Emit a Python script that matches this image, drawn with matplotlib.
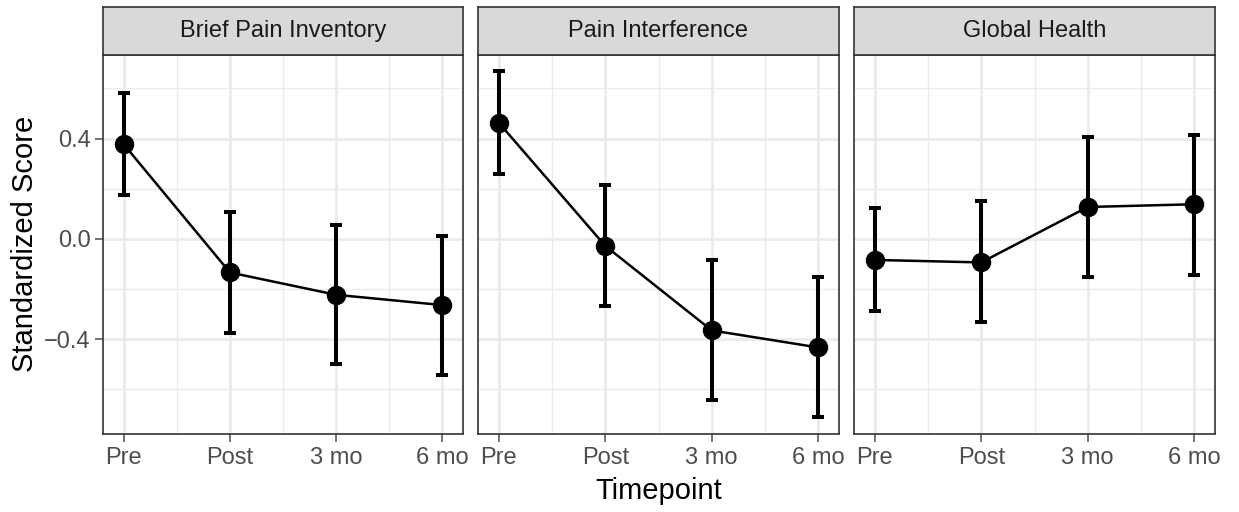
import matplotlib
matplotlib.use("Agg")
import matplotlib.pyplot as plt
import numpy as np

plt.rcParams['font.family'] = ['Liberation Sans', 'DejaVu Sans']

timepoints = ["Pre", "Post", "3 mo", "6 mo"]
panels = ["Brief Pain Inventory", "Pain Interference", "Global Health"]

bpi_mean = [0.377, -0.134, -0.223, -0.264]
bpi_low = [0.173, -0.376, -0.499, -0.542]
bpi_high = [0.580, 0.106, 0.056, 0.013]

pi_mean = [0.463, -0.028, -0.365, -0.433]
pi_low = [0.260, -0.267, -0.641, -0.712]
pi_high = [0.669, 0.214, -0.084, -0.151]

gh_mean = [-0.084, -0.094, 0.127, 0.138]
gh_low = [-0.288, -0.333, -0.153, -0.143]
gh_high = [0.122, 0.149, 0.408, 0.414]

means = [bpi_mean, pi_mean, gh_mean]
lows = [bpi_low, pi_low, gh_low]
highs = [bpi_high, pi_high, gh_high]

W, H = 1239, 512
fig = plt.figure(figsize=(W / 100, H / 100), dpi=100)
fig.patch.set_facecolor("white")

panel_x = [(103, 463), (478, 839), (854, 1215)]
ptop, pbot = 55, 434
stop = 7

x = np.arange(1, 5)
ymin, ymax = -0.778, 0.733
border = "#333333"
grid_major = "#ebebeb"
tickc = "#4d4d4d"

for i, (x0, x1) in enumerate(panel_x):
    ax = fig.add_axes([x0 / W, 1 - pbot / H, (x1 - x0) / W, (pbot - ptop) / H])
    ax.set_xlim(0.805, 4.195)
    ax.set_ylim(ymin, ymax)
    ax.set_facecolor("white")
    for v in [-0.6, -0.2, 0.2, 0.6]:
        ax.axhline(v, color=grid_major, lw=1.0, zorder=0)
    for v in [-0.4, 0.0, 0.4]:
        ax.axhline(v, color=grid_major, lw=2.0, zorder=0)
    for v in [1.5, 2.5, 3.5]:
        ax.axvline(v, color=grid_major, lw=1.0, zorder=0)
    for v in x:
        ax.axvline(v, color=grid_major, lw=2.0, zorder=0)
    m = np.array(means[i]); lo = np.array(lows[i]); hi = np.array(highs[i])
    ax.errorbar(x, m, yerr=[m - lo, hi - m], fmt='none', ecolor='black',
                elinewidth=2.9, capsize=4.6, capthick=2.9, zorder=3)
    ax.plot(x, m, color='black', lw=1.8, zorder=4)
    ax.plot(x, m, 'o', color='black', ms=13, zorder=5)
    ax.set_xticks(x)
    ax.set_xticklabels(timepoints)
    ax.set_yticks([-0.4, 0.0, 0.4])
    ax.tick_params(axis='both', colors=tickc, labelcolor=tickc, labelsize=17,
                   length=5.5, width=1.1, direction='out', pad=3.5)
    if i == 0:
        ax.set_yticklabels(["\u22120.4", "0.0", "0.4"])
    else:
        ax.set_yticklabels([])
        ax.tick_params(axis='y', length=0)
    for s in ax.spines.values():
        s.set_color(border)
        s.set_linewidth(1.2)
    ax.set_axisbelow(True)

    sax = fig.add_axes([x0 / W, 1 - ptop / H, (x1 - x0) / W, (ptop - stop) / H])
    sax.set_facecolor("#d9d9d9")
    sax.set_xticks([]); sax.set_yticks([])
    for s in sax.spines.values():
        s.set_color(border)
        s.set_linewidth(1.2)
    sax.text(0.5, 0.5, panels[i], ha='center', va='center', fontsize=17,
             color="#1a1a1a", transform=sax.transAxes)

fig.text(25 / W, 1 - 244 / H, "Standardized Score", rotation=90, ha='center',
         va='center', fontsize=21, color='black')
fig.text(659 / W, 1 - 491 / H, "Timepoint", ha='center', va='center',
         fontsize=21, color='black')

fig.savefig("out.png", dpi=100, facecolor="white")
